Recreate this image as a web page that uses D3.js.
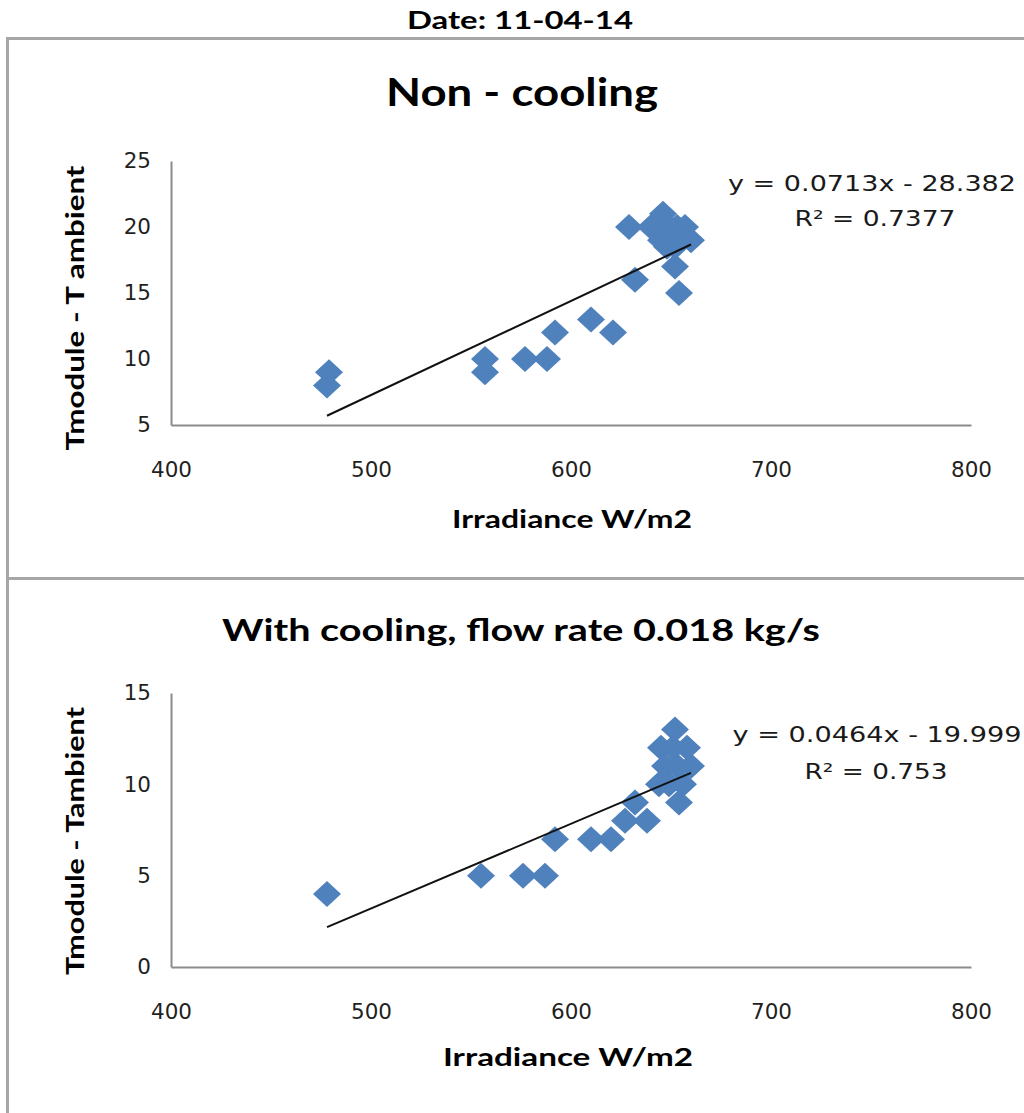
<!DOCTYPE html>
<html>
<head>
<meta charset="utf-8">
<script src="https://cdn.jsdelivr.net/npm/d3@7"></script>
<style>
  html, body { margin: 0; padding: 0; background: #fff; }
  svg { display: block; }
</style>
</head>
<body>
<svg id="chart" width="1024" height="1113"></svg>
<script>
// ---------------- DATA ----------------
const pageTitle = "Date: 11-04-14";
const titles = ["Non - cooling", "With cooling, flow rate 0.018 kg/s"];
const yTitles = ["Tmodule - T ambient", "Tmodule - Tambient"];
const xTitle = "Irradiance  W/m2";

const xTicks = [400, 500, 600, 700, 800];
const yTicksTop = [5, 10, 15, 20, 25];
const yTicksBottom = [0, 5, 10, 15];

// Non-cooling: irradiance (W/m2) and Tmodule - Tambient
const irrTop = [478, 479, 557, 557, 577, 588, 592, 610, 621, 632, 629, 652, 654,
                640, 646, 653, 660, 645, 649, 650, 655, 657, 652, 648];
const dtTop  = [8, 9, 10, 9, 10, 10, 12, 13, 12, 16, 20, 17, 15,
                20, 21, 20, 19, 19, 20, 19, 19, 20, 18.5, 18.5];

// With cooling, flow rate 0.018 kg/s
const irrBottom = [478, 555, 576, 587, 592, 610, 620, 627, 638, 632,
                   652, 645, 651, 658, 647, 653, 660, 644, 649, 656, 654];
const dtBottom  = [4, 5, 5, 5, 7, 7, 7, 8, 8, 9,
                   13, 12, 12, 12, 11, 11, 11, 10, 10, 10, 9];

// Trend line equations shown on the chart
const slopes = [0.0713, 0.0464];
const intercepts = [-28.382, -19.999];
const eqLabels = ["y = 0.0713x - 28.382", "y = 0.0464x - 19.999"];
const r2Labels = ["R\u00B2 = 0.7377", "R\u00B2 = 0.753"];

// ---------------- DRAW ----------------
const svg = d3.select("#chart");
svg.append("rect").attr("width", 1024).attr("height", 1113).attr("fill", "#fff");

const titleFont = "Lato, 'Open Sans', sans-serif";
const numFont = "'DejaVu Sans', Verdana, sans-serif";
const blue = "#4F81BD";

function txt(parent, str, x, y, o) {
  const t = parent.append("text")
    .attr("x", x).attr("y", y)
    .attr("font-family", o.family || titleFont)
    .attr("font-size", o.size)
    .attr("font-weight", o.weight || "normal")
    .attr("fill", o.fill || "#000")
    .attr("text-anchor", o.anchor || "middle")
    .text(str);
  if (o.len) t.attr("textLength", o.len).attr("lengthAdjust", "spacingAndGlyphs");
  if (o.rotate) t.attr("transform", `rotate(-90,${x},${y})`);
  return t;
}

// Page title
txt(svg, pageTitle, 520, 29, {size: 24, weight: "bold", len: 226});

// Frames
svg.append("rect").attr("x", 7.5).attr("y", 38.5).attr("width", 1040).attr("height", 540)
  .attr("fill", "none").attr("stroke", "#a6a6a6").attr("stroke-width", 3);
svg.append("rect").attr("x", 7.5).attr("y", 578.5).attr("width", 1040).attr("height", 560)
  .attr("fill", "none").attr("stroke", "#a6a6a6").attr("stroke-width", 3);

const panels = [
  {
    xs: irrTop, ys: dtTop, yDomain: [5, 25], yRange: [425, 161], yTicks: yTicksTop,
    title: titles[0], titleY: 106, titleSize: 39, titleLen: 272, titleX: 522,
    yTitle: yTitles[0], yTitleY: 308, yTitleLen: 285,
    xTitleY: 528, xTitleX: 572, xTitleLen: 240,
    eqX: 872, eqY: 191, eqLen: 288, r2X: 875, r2Y: 226, r2Len: 161,
    k: 0
  },
  {
    xs: irrBottom, ys: dtBottom, yDomain: [0, 15], yRange: [967, 693], yTicks: yTicksBottom,
    title: titles[1], titleY: 641, titleSize: 31, titleLen: 598, titleX: 521,
    yTitle: yTitles[1], yTitleY: 841, yTitleLen: 268,
    xTitleY: 1066, xTitleX: 568, xTitleLen: 250,
    eqX: 877, eqY: 742, eqLen: 289, r2X: 876, r2Y: 779, r2Len: 143,
    k: 1
  }
];

const x = d3.scaleLinear().domain([400, 800]).range([171, 971]);
const diamond = "M0,-13L14,0L0,13L-14,0Z";

panels.forEach(p => {
  const y = d3.scaleLinear().domain(p.yDomain).range(p.yRange);
  const g = svg.append("g");

  // Titles
  txt(g, p.title, p.titleX, p.titleY, {size: p.titleSize, weight: "bold", len: p.titleLen});
  txt(g, p.yTitle, 84, p.yTitleY, {size: 24, weight: "bold", len: p.yTitleLen, rotate: true});
  txt(g, xTitle, p.xTitleX, p.xTitleY, {size: 24, weight: "bold", len: p.xTitleLen});

  // Axes
  const yAxis = g.append("g").attr("transform", `translate(${x(400)},0)`)
    .call(d3.axisLeft(y).tickValues(p.yTicks).tickSize(0).tickPadding(20).tickFormat(d3.format("d")));
  const xAxis = g.append("g").attr("transform", `translate(0,${y(p.yDomain[0])})`)
    .call(d3.axisBottom(x).tickValues(xTicks).tickSize(0).tickPadding(37).tickFormat(d3.format("d")));
  [yAxis, xAxis].forEach(a => {
    a.select(".domain").attr("stroke", "#8c8c8c").attr("stroke-width", 2);
    a.selectAll("text").attr("font-family", numFont).attr("font-size", 21.5).attr("fill", "#1f1f1f");
  });

  // Points
  const pts = p.xs.map((v, i) => [v, p.ys[i]]);
  g.append("g").selectAll("path").data(pts).join("path")
    .attr("d", diamond)
    .attr("transform", d => `translate(${x(d[0])},${y(d[1])})`)
    .attr("fill", blue);

  // Trend line from equation across data range
  const ext = d3.extent(p.xs);
  const line = d3.line().x(d => x(d)).y(d => y(slopes[p.k] * d + intercepts[p.k]));
  g.append("path").datum(ext).attr("d", line)
    .attr("fill", "none").attr("stroke", "#111").attr("stroke-width", 2);

  // Equation labels
  txt(g, eqLabels[p.k], p.eqX, p.eqY, {family: numFont, size: 22, fill: "#1a1a1a", len: p.eqLen});
  txt(g, r2Labels[p.k], p.r2X, p.r2Y, {family: numFont, size: 22, fill: "#1a1a1a", len: p.r2Len});
});
</script>
</body>
</html>
